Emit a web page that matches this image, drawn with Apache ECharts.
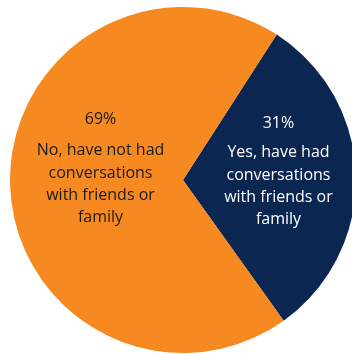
<!DOCTYPE html>
<html>
<head>
<meta charset="utf-8">
<style>
  html, body { margin: 0; padding: 0; background: #ffffff; }
  #chart { width: 352px; height: 354px; }
</style>
<script src="https://cdn.jsdelivr.net/npm/echarts@6/dist/echarts.min.js"></script>
</head>
<body>
<div id="chart"></div>
<script>
// Survey answers: share of respondents who have talked with friends or family
const categories = [
  'Yes, have had\nconversations\nwith friends or\nfamily',
  'No, have not had\nconversations\nwith friends or\nfamily'
];
const shares = [31, 69];
const sliceColors = ['#0B2650', '#F6891F'];
const labelColors = ['#ffffff', '#1a1a1a'];
const labelOffsets = [[6, -2.5], [7, -9]];
const percentGaps = [15, 18];

const chart = echarts.init(document.getElementById('chart'), null, { renderer: 'canvas' });

const data = categories.map((name, i) => ({
  name: name,
  value: shares[i],
  itemStyle: { color: sliceColors[i] },
  label: {
    color: labelColors[i],
    offset: labelOffsets[i],
    rich: {
      p: { color: labelColors[i], fontSize: 16, fontFamily: 'Open Sans', lineHeight: 22, padding: [0, 0, percentGaps[i], 0] },
      t: { color: labelColors[i], fontSize: 16, fontFamily: 'Open Sans', lineHeight: 22.3, align: 'center' }
    }
  }
}));

chart.setOption({
  animation: false,
  series: [{
    type: 'pie',
    center: [183, 180],
    radius: [0, 173],
    startAngle: 57.2,
    clockwise: true,
    avoidLabelOverlap: false,
    label: {
      show: true,
      position: 'inner',
      align: 'center',
      formatter: p => '{p|' + p.value + '%}\n' + p.name.split('\n').map(s => '{t|' + s + '}').join('\n')
    },
    labelLine: { show: false },
    itemStyle: { borderWidth: 0 },
    emphasis: { disabled: true },
    data: data
  }]
});
</script>
</body>
</html>
